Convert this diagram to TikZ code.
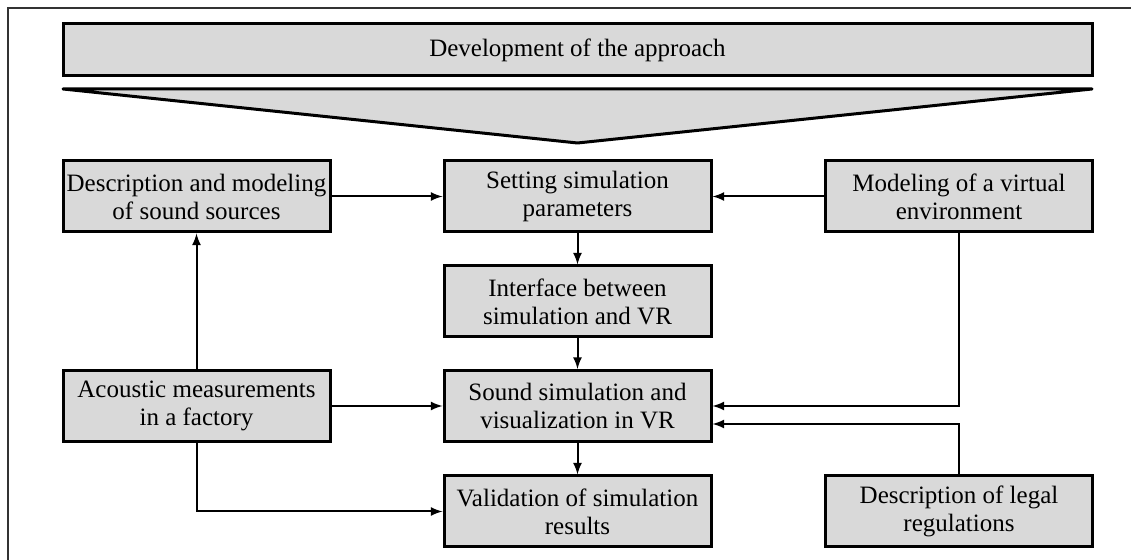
\documentclass[tikz,border=0pt]{standalone}
\usepackage{fontspec}
\setmainfont{Liberation Serif}
\usetikzlibrary{shapes}
\usetikzlibrary{arrows}

\definecolor{boxgray}{RGB}{217,217,217}
\definecolor{framegray}{RGB}{51,51,51}

\begin{document}
\begin{tikzpicture}[x=0.5pt,y=-0.5pt]
			\tikzstyle{step box}=[rectangle,draw,fill=boxgray,line width=1.5pt,minimum width=133.5pt,minimum height=35.5pt,inner sep=0pt,align=center,font=\fontsize{12.5}{14}\selectfont]
			\tikzstyle{flow}=[-latex,line width=1pt]
			\useasboundingbox (0,0) rectangle (1131,560);
			\draw[framegray,line width=1pt] (8,560) -- (8,8) -- (1131,8);
			
			% header and funnel
			\node[step box,minimum width=514.5pt,minimum height=26pt] (dev) at (577.5,50) {Development of the approach};
			\draw[fill=boxgray,line width=1.5pt,line join=round] (63,89) -- (1092,89) -- (577.5,143) -- cycle;
			
			\node[step box] (src) at (196.5,196.5) {Description and modeling\\of sound sources};
			\node[step box] (param) at (577.5,196.5) {Setting simulation\\parameters};
			\node[step box] (env) at (959,196.5) {Modeling of a virtual\\environment};
			\node[step box] (iface) at (577.5,301.5) {Interface between\\simulation and VR};
			\node[step box] (sim) at (577.5,406) {Sound simulation and\\visualization in VR};
			\node[step box] (meas) at (196.5,406) {Acoustic measurements\\in a factory};
			\node[step box] (valid) at (577.5,511.5) {Validation of simulation\\results};
			\node[step box] (legal) at (959,511) {Description of legal\\regulations};
			\coordinate (simin) at ([yshift=-9pt]sim.east);
			
			\draw[flow] (src) -- (param);
			\draw[flow] (env) -- (param);
			\draw[flow] (param) -- (iface);
			\draw[flow] (iface) -- (sim);
			\draw[flow] (sim) -- (valid);
			\draw[flow] (meas) -- (sim);
			\draw[flow] (meas) -- (src);
			\draw[flow] (meas.south) |- (valid.west);
			\draw[flow] (env.south) |- (sim.east);
			\draw[flow] (legal.north) |- (simin);
			
			\end{tikzpicture}
\end{document}
